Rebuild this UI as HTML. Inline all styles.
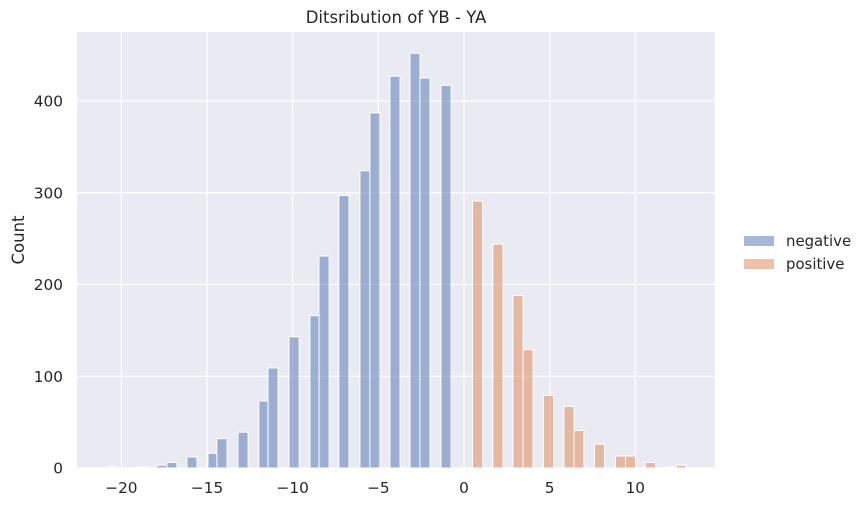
<!DOCTYPE html>
<html><head><meta charset="utf-8"><style>
body{margin:0;background:#fff;font-family:"DejaVu Sans","Liberation Sans",sans-serif}
</style></head><body>
<svg width="866" height="506" xmlns="http://www.w3.org/2000/svg" font-family="DejaVu Sans, Liberation Sans, sans-serif">
<rect x="77" y="32" width="638" height="436" fill="#eaeaf2"/>
<g id="grid"></g><g id="bars"></g><g id="ticks"></g>
<text x="396" y="23" text-anchor="middle" font-size="16.5" fill="#262626">Ditsribution of YB - YA</text>
<text transform="translate(24,240) rotate(-90)" text-anchor="middle" font-size="16.5" fill="#262626">Count</text>
<g>
<g><rect x="744" y="236" width="30" height="10" fill="#4c72b0" fill-opacity="0.5"/><text x="786" y="246" font-size="14.9" fill="#262626">negative</text></g>
<g><rect x="744" y="259" width="30" height="10" fill="#dd8452" fill-opacity="0.5"/><text x="786" y="269" font-size="14.9" fill="#262626">positive</text></g>
</g>
</svg>
<script>
const negCenters=[-20.55,-18.80,-17.63,-17.05,-15.88,-14.65,-14.13,-12.90,-11.68,-11.15,-9.92,-8.70,-8.17,-7.01,-5.78,-5.20,-4.03,-2.86,-2.28,-1.05];
const negCounts=[1,1,3,6,12,16,32,39,73,109,143,166,231,297,324,387,427,452,425,417];
const posCenters=[0.79,1.98,3.15,3.74,4.93,6.13,6.71,7.91,9.14,9.72,10.89,12.11,12.67];
const posCounts=[291,244,188,129,79,67,41,26,13,13,6,1,3];
const binWidth=0.59;
const xTicks=[-20,-15,-10,-5,0,5,10];
const yTicks=[0,100,200,300,400];
const NS="http://www.w3.org/2000/svg";
const X=v=>464+v*17.13, Y=v=>468-v*0.9175;
function mk(tag,attrs,parent){const e=document.createElementNS(NS,tag);for(const k in attrs)e.setAttribute(k,attrs[k]);document.getElementById(parent).appendChild(e);return e;}
xTicks.forEach(t=>{
 const l=mk('line',{x1:X(t),x2:X(t),y1:32,y2:468,stroke:'#fff','stroke-width':1.2},'grid');
 
 
 const tx=mk('text',{x:X(t),y:493,'text-anchor':'middle','font-size':15.3,fill:'#262626'},'ticks');
 tx.textContent=(t<0?'\u2212'+(-t):t);
 
 
});
yTicks.forEach(t=>{
 const l=mk('line',{x1:77,x2:715,y1:Y(t),y2:Y(t),stroke:'#fff','stroke-width':1.2},'grid');
 
 
 const tx=mk('text',{x:63,y:Y(t)+5.5,'text-anchor':'end','font-size':15.3,fill:'#262626'},'ticks');
 tx.textContent=t;
 
 
});
function drawBars(centers,counts,color,name){
 centers.forEach((c,i)=>{
  const x0=X(c-binWidth/2),x1=X(c+binWidth/2);
  const r=mk('rect',{x:x0,y:Y(counts[i]),width:x1-x0,height:Y(0)-Y(counts[i]),fill:color,'fill-opacity':0.5,stroke:'#fff','stroke-width':1},'bars');
  
  
 });
}
drawBars(negCenters,negCounts,'#4c72b0','bar-negative');
drawBars(posCenters,posCounts,'#dd8452','bar-positive');
</script>
</body></html>
